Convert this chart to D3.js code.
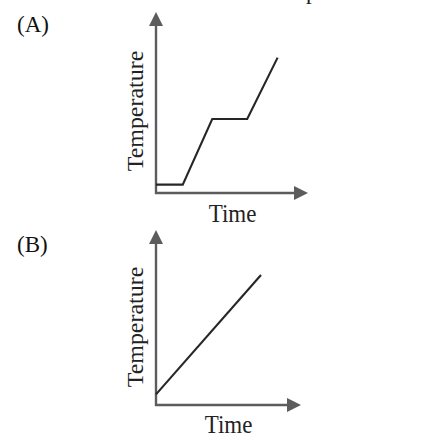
<!DOCTYPE html>
<html><head><meta charset="utf-8">
<script src="https://cdn.jsdelivr.net/npm/d3@7"></script>
<style>html,body{margin:0;padding:0;background:#fff;}svg{display:block;}</style>
</head><body>
<script>
// Panel A: heating curve with plateau
const timeA = [0, 1.76, 3.7, 6.0, 8.0];
const tempA = [0.46, 0.46, 4.09, 4.09, 7.48];
// Panel B: straight rise
const timeB = [0, 7.24];
const tempB = [0.61, 7.43];
const panelLabels = ["(A)", "(B)"];
const xLabel = "Time";
const yLabel = "Temperature";

const svg = d3.select("body").append("svg").attr("width", 422).attr("height", 444);
const font = "'Liberation Serif', 'Times New Roman', serif";
const axisColor = "#5c5c5c";

// partial cut-off text at the top edge
svg.append("text").attr("x", 306).attr("y", -1).attr("font-family", font)
  .attr("font-size", 23).attr("fill", "#222").text("p");

function panel(cfg) {
  const x = d3.scaleLinear().domain([0, 10]).range(cfg.xr);
  const y = d3.scaleLinear().domain([0, 10]).range(cfg.yr);
  const g = svg.append("g");
  const x0 = x(0), y0 = y(0), xEnd = x(10), yEnd = y(10);
  const ah = 14, aw = 7;
  // axes
  g.append("line").attr("x1", x0).attr("y1", y0 + 1).attr("x2", x0).attr("y2", yEnd + ah - 1)
    .attr("stroke", axisColor).attr("stroke-width", 2.4);
  g.append("line").attr("x1", x0 - 1).attr("y1", y0).attr("x2", xEnd - ah + 1).attr("y2", y0)
    .attr("stroke", axisColor).attr("stroke-width", 2.4);
  g.append("path").attr("d", `M${x0},${yEnd}L${x0 - aw},${yEnd + ah}L${x0 + aw},${yEnd + ah}Z`).attr("fill", axisColor);
  g.append("path").attr("d", `M${xEnd},${y0}L${xEnd - ah},${y0 - aw}L${xEnd - ah},${y0 + aw}Z`).attr("fill", axisColor);
  // data line
  const line = d3.line().x(d => x(d[0])).y(d => y(d[1]));
  g.append("path").datum(cfg.t.map((t, i) => [t, cfg.v[i]])).attr("d", line)
    .attr("fill", "none").attr("stroke", "#262626").attr("stroke-width", 2.1).attr("stroke-linejoin", "miter");
  // labels
  g.append("text").attr("transform", `translate(${cfg.timeX},${cfg.timeY}) scale(1,1.08)`)
    .attr("text-anchor", "middle").attr("font-family", font).attr("font-size", 23)
    .attr("fill", "#222").text(xLabel);
  g.append("text").attr("transform", `translate(${cfg.tempX},${cfg.tempY}) rotate(-90) scale(1.06,1)`)
    .attr("text-anchor", "middle").attr("font-family", font).attr("font-size", 22.6)
    .attr("fill", "#222").text(yLabel);
  g.append("text").attr("x", 17).attr("y", cfg.labY).attr("font-family", font).attr("font-size", 23)
    .attr("fill", "#111").text(cfg.lab);
}

panel({xr: [156, 308], yr: [193, 12], t: timeA, v: tempA, timeX: 232.5, timeY: 222,
       tempX: 143, tempY: 111, lab: panelLabels[0], labY: 32});
panel({xr: [156, 301], yr: [405, 230], t: timeB, v: tempB, timeX: 228.5, timeY: 433,
       tempX: 143, tempY: 327, lab: panelLabels[1], labY: 252});
</script>
</body></html>
